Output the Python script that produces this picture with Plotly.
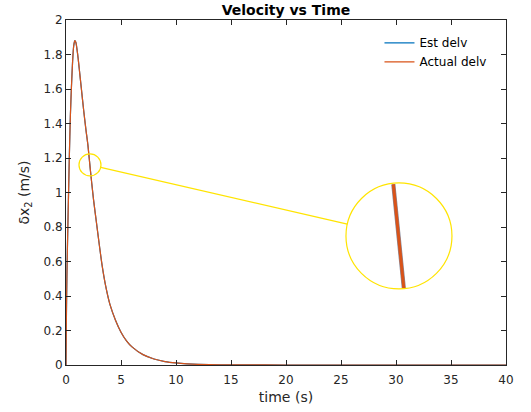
import numpy as np
import plotly.graph_objects as go

# ---- data ----
time_s = [0, 0.04, 0.08, 0.12, 0.2, 0.3, 0.4, 0.5, 0.6, 0.7, 0.8, 0.9, 1.0, 1.1, 1.2,
          1.4, 1.6, 1.8, 2.0, 2.2, 2.5, 2.8, 3.0, 3.3, 3.6, 4.0, 4.5, 5.0, 5.5, 6.0,
          7.0, 8.0, 9.0, 10, 11, 12, 14, 16, 20, 25, 30, 35, 40]
actual_delv = [0, 0.3, 0.5, 0.65, 0.9, 1.2, 1.45, 1.62, 1.76, 1.85, 1.88, 1.87, 1.83, 1.78, 1.72,
               1.6, 1.48, 1.37, 1.27, 1.14, 0.96, 0.81, 0.71, 0.57, 0.46, 0.35, 0.26, 0.19, 0.14, 0.105,
               0.06, 0.035, 0.02, 0.012, 0.007, 0.004, 0.0015, 0.0005, 0.0001, 0, 0, 0, 0]
est_delv = list(actual_delv)

x_ticks = [0, 5, 10, 15, 20, 25, 30, 35, 40]
y_ticks = [0, 0.2, 0.4, 0.6, 0.8, 1.0, 1.2, 1.4, 1.6, 1.8, 2.0]

# magnifier: source and destination centers (data units), radii in pixels
src_center = (2.18, 1.16)
dst_center = (30.27, 0.748)
src_r_px = 11
dst_r_px = 53

BLUE = "#0072BD"
ORANGE = "#D95319"
YELLOW = "rgb(255,228,0)"
AX = "#262626"

W, H = 531, 412
ML, MR, MT, MB = 66, 25, 20, 47
XR = [0, 40]
YR = [0, 2]
sx = (W - ML - MR) / (XR[1] - XR[0])   # px per x unit
sy = (H - MT - MB) / (YR[1] - YR[0])   # px per y unit

fig = go.Figure()
fig.add_trace(go.Scatter(x=time_s, y=est_delv, mode="lines", name="Est delv",
                         line=dict(color=BLUE, width=1.2, shape="spline", smoothing=0.6)))
fig.add_trace(go.Scatter(x=time_s, y=actual_delv, mode="lines", name="Actual delv",
                         line=dict(color=ORANGE, width=1.2, shape="spline", smoothing=0.6)))

# magnified segment
M = dst_r_px / src_r_px
def magnify(ts, vs):
    tf = np.linspace(1.5, 3.0, 600)
    vf = np.interp(tf, ts, vs)
    dxp = (tf - src_center[0]) * sx
    dyp = (vf - src_center[1]) * sy
    inside = np.sqrt(dxp**2 + dyp**2) <= src_r_px
    mx = dst_center[0] + M * (tf[inside] - src_center[0])
    my = dst_center[1] + M * (vf[inside] - src_center[1])
    return mx, my

mx, my = magnify(time_s, est_delv)
fig.add_trace(go.Scatter(x=mx, y=my, mode="lines", showlegend=False,
                         line=dict(color="#8a8a9a", width=4.2)))
mx, my = magnify(time_s, actual_delv)
fig.add_trace(go.Scatter(x=mx, y=my, mode="lines", showlegend=False,
                         line=dict(color=ORANGE, width=3)))

def circle(c, rpx):
    rx, ry = rpx / sx, rpx / sy
    return dict(type="circle", xref="x", yref="y", x0=c[0]-rx, x1=c[0]+rx,
                y0=c[1]-ry, y1=c[1]+ry, line=dict(color=YELLOW, width=1.2))

fig.add_shape(circle(src_center, src_r_px))
fig.add_shape(circle(dst_center, dst_r_px))
# connecting line between circle edges (pixel-space direction)
dxp = (dst_center[0]-src_center[0]) * sx
dyp = (dst_center[1]-src_center[1]) * sy
L = np.hypot(dxp, dyp)
ux, uy = dxp / L, dyp / L
fig.add_shape(type="line", xref="x", yref="y",
              x0=src_center[0] + ux*src_r_px/sx, y0=src_center[1] + uy*src_r_px/sy,
              x1=dst_center[0] - ux*dst_r_px/sx, y1=dst_center[1] - uy*dst_r_px/sy,
              line=dict(color=YELLOW, width=1.2))

axis_common = dict(showgrid=False, zeroline=False, showline=True, linecolor=AX, linewidth=1,
                   mirror="ticks", ticks="inside", ticklen=5, tickcolor=AX, automargin=False,
                   tickfont=dict(size=12, color=AX, family="DejaVu Sans"))

fig.update_layout(
    width=W, height=H,
    margin=dict(l=ML, r=MR, t=MT, b=MB, autoexpand=False),
    plot_bgcolor="white", paper_bgcolor="white",
    font=dict(family="DejaVu Sans", color=AX),
    title=dict(text="<b>Velocity vs Time</b>", x=0.5, xref="paper", xanchor="center",
               y=(H - 10) / H, yref="container", yanchor="middle",
               font=dict(size=14, color="black", family="DejaVu Sans")),
    xaxis=dict(range=XR, tickvals=x_ticks, ticklabelstandoff=4,
               title=dict(text="time (s)", font=dict(size=14), standoff=5),
               **axis_common),
    yaxis=dict(range=YR, tickvals=y_ticks,
               title=dict(text="δx<sub>2</sub> (m/s)", font=dict(size=14), standoff=10),
               **axis_common),
    legend=dict(x=0.967, y=0.976, xanchor="right", yanchor="top", bgcolor="rgba(255,255,255,0)",
                font=dict(size=12, color="black"), itemwidth=30, tracegroupgap=0),
)

fig.write_html("out.html", config={"displayModeBar": False},
               post_script="document.body.style.margin='0';")
